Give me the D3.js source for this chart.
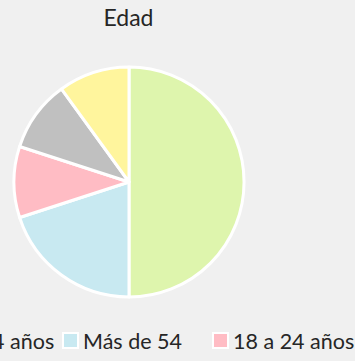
<!DOCTYPE html>
<html>
<head>
<meta charset="utf-8">
<script src="https://cdn.jsdelivr.net/npm/d3@7"></script>
<style>
  html, body { margin: 0; padding: 0; background: #f0f0f0; overflow: hidden; }
  svg { display: block; }
  text { font-family: "Source Sans Pro", Lato, "Noto Sans", sans-serif; fill: #262626; }
</style>
</head>
<body>
<svg id="chart" width="355" height="361"></svg>
<script>
// Age groups and their share of respondents (%)
const categories = ["25 a 34 años", "Más de 54", "18 a 24 años", "35 a 44 años", "45 a 54 años"];
const values = [50, 20, 10, 10, 10];
const colors = ["#def5ad", "#c8e9f1", "#ffbcc4", "#c0c0c0", "#fff59d"];
const title = "Edad";

const svg = d3.select("#chart");
const W = 355, H = 361;

svg.append("rect").attr("width", W).attr("height", H).attr("fill", "#f0f0f0");

svg.append("text")
  .attr("x", 128.5).attr("y", 26)
  .attr("text-anchor", "middle")
  .style("font-size", "23px")
  .text(title);

const color = d3.scaleOrdinal().domain(categories).range(colors);
const pie = d3.pie().sort(null).value(d => d.value);
const arc = d3.arc().innerRadius(0).outerRadius(115);
const data = categories.map((c, i) => ({ label: c, value: values[i] }));

const g = svg.append("g").attr("transform", "translate(129,182)");
g.selectAll("path")
  .data(pie(data))
  .join("path")
  .attr("d", arc)
  .attr("fill", d => color(d.data.label))
  .attr("stroke", "#fff")
  .attr("stroke-width", 3)
  .attr("stroke-linejoin", "round");

// Legend: one row of fixed-width slots, wider than the view
const legendX = d3.scaleBand().domain(categories).range([-88, -88 + 150 * categories.length]).padding(0);
const item = svg.append("g").selectAll("g")
  .data(categories)
  .join("g")
  .attr("transform", d => `translate(${legendX(d)},332)`);
item.append("rect")
  .attr("x", 1).attr("y", 1).attr("width", 15).attr("height", 15)
  .attr("fill", d => color(d))
  .attr("stroke", "#fff").attr("stroke-width", 2);
item.append("text")
  .attr("x", 21).attr("y", 17)
  .style("font-size", "21.5px")
  .text(d => d);
</script>
</body>
</html>
